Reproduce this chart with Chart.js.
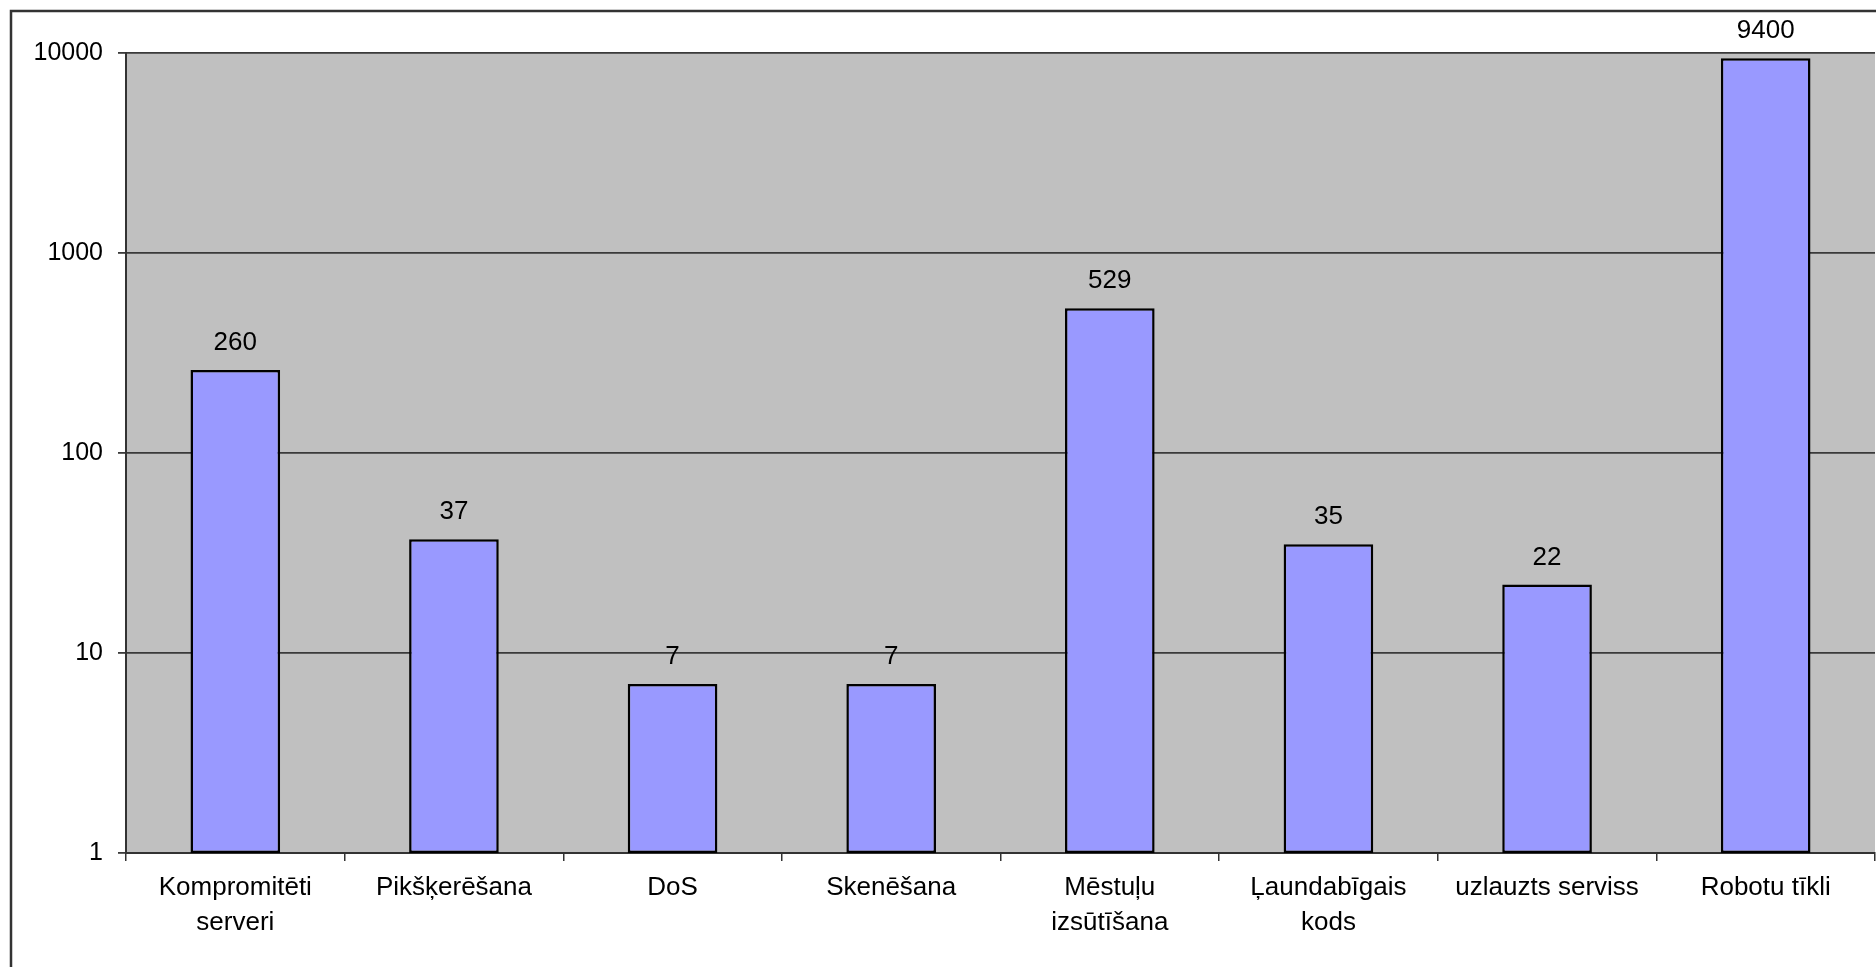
<!DOCTYPE html>
<html>
<head>
<meta charset="utf-8">
<script src="https://cdn.jsdelivr.net/npm/chart.js@4/dist/chart.umd.min.js"></script>
<style>
  html, body { margin: 0; padding: 0; background: #fff; }
  #wrap { position: relative; width: 1876px; height: 967px; }
</style>
</head>
<body>
<div id="wrap"><canvas id="chart"></canvas></div>
<script>
(function () {
  "use strict";

  var categories = [
    ["Kompromitēti", "serveri"],
    "Pikšķerēšana",
    "DoS",
    "Skenēšana",
    ["Mēstuļu", "izsūtīšana"],
    ["Ļaundabīgais", "kods"],
    "uzlauzts serviss",
    "Robotu tīkli"
  ];
  var incidents = [260, 37, 7, 7, 529, 35, 22, 9400];
  var yTicks = [1, 10, 100, 1000, 10000];

  var FONT = "'Liberation Sans', Arial, sans-serif";

  /* ── Plugins ──────────────────────────────── */

  // grey plot area behind the bars
  var plotBg = {
    id: "plotBg",
    beforeDraw: function (chart) {
      var a = chart.chartArea, c = chart.ctx;
      c.save();
      c.fillStyle = "#c0c0c0";
      c.fillRect(a.left, a.top, a.right - a.left, a.bottom - a.top);
      c.restore();
    }
  };

  // outer chart frame (runs off the bottom/right of the picture)
  var frame = {
    id: "frame",
    afterDraw: function (chart) {
      var c = chart.ctx;
      c.save();
      c.strokeStyle = "#333";
      c.lineWidth = 2.5;
      c.strokeRect(11, 11, chart.width + 20, chart.height + 20);
      c.restore();
    }
  };

  // value labels above each bar
  var valueLabels = {
    id: "valueLabels",
    afterDatasetsDraw: function (chart) {
      var c = chart.ctx;
      var meta = chart.getDatasetMeta(0);
      c.save();
      c.font = "26px " + FONT;
      c.fillStyle = "#000";
      c.textAlign = "center";
      c.textBaseline = "alphabetic";
      meta.data.forEach(function (bar, i) {
        c.fillText(String(incidents[i]), bar.x, bar.y - 20);
      });
      c.restore();
    }
  };

  /* ── Chart ────────────────────────────────── */

  new Chart(document.getElementById("chart"), {
    type: "bar",
    data: {
      labels: categories,
      datasets: [{
        data: incidents,
        backgroundColor: "#9999ff",
        borderColor: "#000",
        borderWidth: 2.5,
        borderSkipped: false,
        categoryPercentage: 0.41,
        barPercentage: 1
      }]
    },
    options: {
      responsive: true,
      maintainAspectRatio: false,
      animation: false,
      layout: { padding: { top: 53, right: 1, left: 0, bottom: 0 } },
      scales: {
        x: {
          offset: true,
          border: { color: "#333", width: 2 },
          grid: {
            offset: true,
            drawOnChartArea: false,
            drawTicks: true,
            tickLength: 8,
            color: "#333",
            lineWidth: 1.5
          },
          ticks: {
            color: "#000",
            padding: 10,
            maxRotation: 0,
            autoSkip: false,
            font: { size: 26, family: FONT, lineHeight: 1.32 }
          },
          afterFit: function (s) { s.height = 114; }
        },
        y: {
          type: "logarithmic",
          min: 1,
          max: 10000,
          border: { color: "#333", width: 2 },
          grid: {
            color: "#3a3a3a",
            lineWidth: 1.8,
            tickLength: 8
          },
          afterBuildTicks: function (s) {
            s.ticks = yTicks.map(function (v) { return { value: v }; });
          },
          ticks: {
            color: "#000",
            padding: 15,
            font: { size: 25, family: FONT },
            callback: function (v) { return String(v); }
          },
          afterFit: function (s) { s.width = 126; }
        }
      },
      plugins: {
        legend: { display: false },
        tooltip: { enabled: false }
      }
    },
    plugins: [plotBg, valueLabels, frame]
  });
})();
</script>
</body>
</html>
